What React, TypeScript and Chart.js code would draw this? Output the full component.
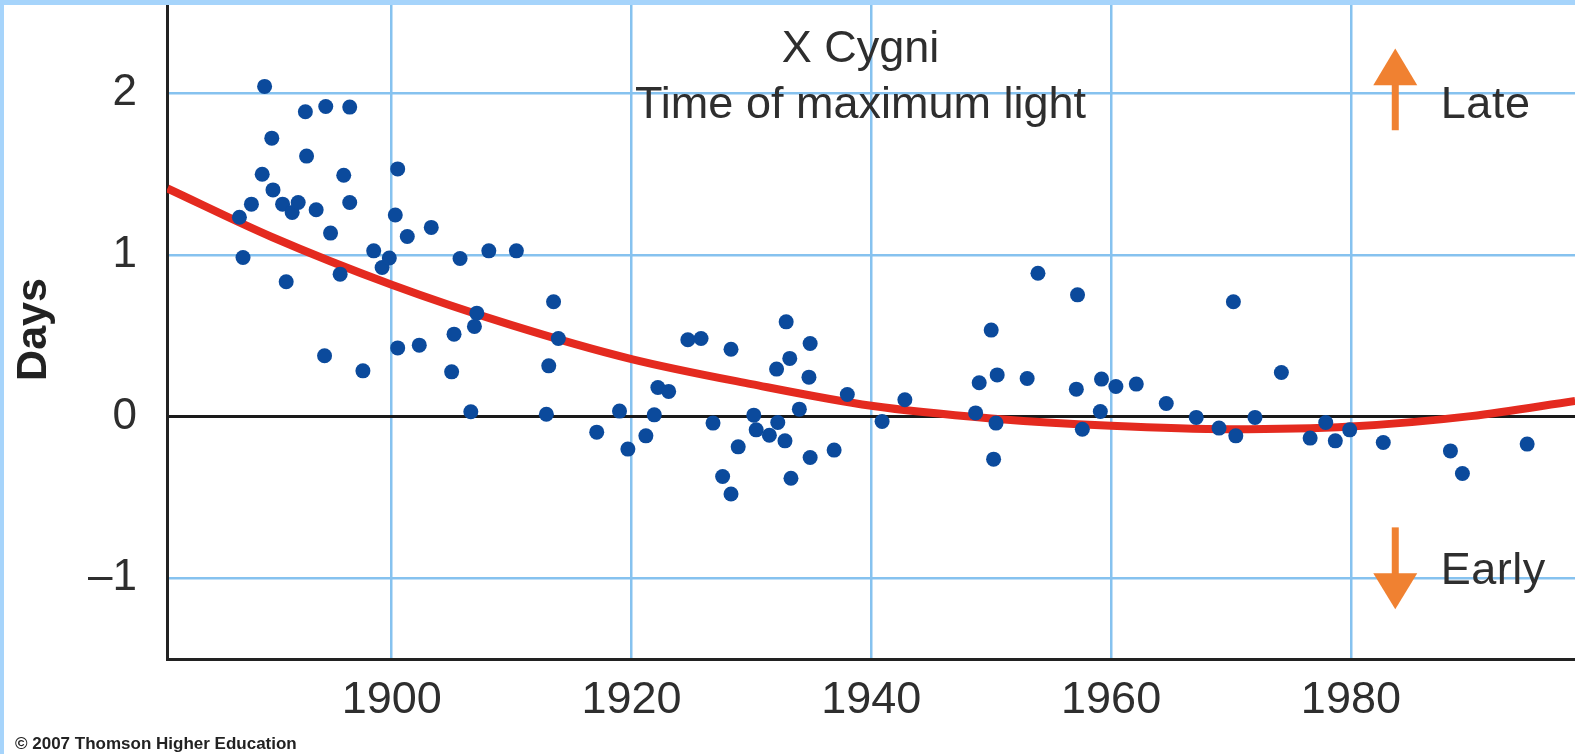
import React, { useEffect, useRef } from "react";
import { Chart, registerables } from "chart.js";

Chart.register(...registerables);

// ---- Data ----
const obsYears = [
  1887.3, 1887.6, 1888.3, 1889.2, 1889.4, 1890.0, 1890.1, 1890.9, 1891.2, 1891.7,
  1892.2, 1892.8, 1892.9, 1893.7, 1894.4, 1894.5, 1894.9, 1895.7, 1896.0, 1896.5,
  1896.5, 1897.6, 1898.5, 1899.2, 1899.8, 1900.3, 1900.5, 1900.5, 1901.3, 1902.3,
  1903.3, 1905.0, 1905.2, 1905.7, 1906.6, 1906.9, 1907.1, 1908.1, 1910.4, 1912.9,
  1913.1, 1913.5, 1913.9, 1917.1, 1919.0, 1919.7, 1921.2, 1921.9, 1922.2, 1923.1,
  1924.7, 1925.8, 1926.8, 1927.6, 1928.3, 1928.3, 1928.9, 1930.2, 1930.4, 1931.5,
  1932.1, 1932.2, 1932.8, 1932.9, 1933.2, 1933.3, 1934.0, 1934.8, 1934.9, 1934.9,
  1936.9, 1938.0, 1940.9, 1942.8, 1948.7, 1949.0, 1950.0, 1950.2, 1950.4, 1950.5,
  1953.0, 1953.9, 1957.1, 1957.2, 1957.6, 1959.1, 1959.2, 1960.4, 1962.1, 1964.6,
  1967.1, 1969.0, 1970.2, 1970.4, 1972.0, 1974.2, 1976.6, 1977.9, 1978.7, 1979.9,
  1982.7, 1988.3, 1989.3, 1994.7,
];
const obsDays = [
  1.232, 0.983, 1.313, 1.498, 2.041, 1.721, 1.401, 1.313, 0.833, 1.262,
  1.323, 1.884, 1.61, 1.278, 0.375, 1.917, 1.134, 0.88, 1.492, 1.913,
  1.323, 0.282, 1.024, 0.921, 0.98, 1.246, 1.531, 0.424, 1.113, 0.441,
  1.169, 0.276, 0.509, 0.977, 0.029, 0.557, 0.639, 1.024, 1.024, 0.014,
  0.313, 0.709, 0.482, -0.097, 0.033, -0.202, -0.12, 0.01, 0.179, 0.155,
  0.474, 0.482, -0.041, -0.371, -0.48, 0.416, -0.188, 0.008, -0.083, -0.116,
  0.293, -0.037, -0.151, 0.585, 0.359, -0.382, 0.045, 0.243, 0.451, -0.254,
  -0.208, 0.136, -0.031, 0.103, 0.022, 0.208, 0.534, -0.264, -0.041, 0.257,
  0.235, 0.886, 0.169, 0.752, -0.079, 0.031, 0.231, 0.185, 0.2, 0.08,
  -0.006, -0.072, 0.709, -0.12, -0.006, 0.272, -0.134, -0.037, -0.151, -0.083,
  -0.161, -0.213, -0.353, -0.171,
];

// Trend curve
const fitYears = [1881.3, 1890, 1900, 1910, 1920, 1930, 1940, 1950, 1960, 1970, 1980, 1990, 1998.7];
const fitDays = [1.41, 1.11, 0.815, 0.565, 0.355, 0.2, 0.066, -0.012, -0.058, -0.079, -0.062, 0.002, 0.096];

const xTickValues = [1900, 1920, 1940, 1960, 1980];
const xTickLabels = ["1900", "1920", "1940", "1960", "1980"];
const yTickValues = [-1, 0, 1, 2];
const yTickLabels = ["\u20131", "0", "1", "2"];

const titleLines = ["X Cygni", "Time of maximum light"];
const yAxisTitle = "Days";
const lateLabel = "Late";
const earlyLabel = "Early";
const creditText = "\u00A9 2007 Thomson Higher Education";

// ---- Styling ----
const FONT = "'Liberation Sans', Arial, Helvetica, sans-serif";
const GRID_BLUE = "#86c2ef";
const FRAME_BLUE = "#a6d4fb";
const DOT_BLUE = "#0b4a9c";
const RED = "#e42a1f";
const ORANGE = "#f08131";
const TEXT = "#2e2e2e";

const W = 1575;
const H = 754;

const annotationPlugin = {
  id: "annotations",
  afterDraw(chart: any) {
    const ctx = chart.ctx;
    const xs = chart.scales.x;
    const ys = chart.scales.y;
    const px = (v: number) => xs.getPixelForValue(v);
    const py = (v: number) => ys.getPixelForValue(v);
    ctx.save();

    // title
    ctx.fillStyle = TEXT;
    ctx.font = `45px ${FONT}`;
    ctx.textAlign = "center";
    ctx.textBaseline = "alphabetic";
    ctx.fillText(titleLines[0], px(1939.1), py(2.193));
    ctx.fillText(titleLines[1], px(1939.1), py(1.845));

    // arrows
    const ax = px(1983.7);
    ctx.fillStyle = ORANGE;
    // up arrow
    ctx.fillRect(ax - 3.5, py(2.06), 7, py(1.77) - py(2.06));
    ctx.beginPath();
    ctx.moveTo(ax, py(2.276));
    ctx.lineTo(ax + 22, py(2.049));
    ctx.lineTo(ax - 22, py(2.049));
    ctx.closePath();
    ctx.fill();
    // down arrow
    ctx.fillRect(ax - 3.5, py(-0.686), 7, py(-0.98) - py(-0.686));
    ctx.beginPath();
    ctx.moveTo(ax - 22, py(-0.969));
    ctx.lineTo(ax + 22, py(-0.969));
    ctx.lineTo(ax, py(-1.192));
    ctx.closePath();
    ctx.fill();

    // Late / Early
    ctx.fillStyle = TEXT;
    ctx.font = `45px ${FONT}`;
    ctx.textAlign = "left";
    (ctx as any).letterSpacing = "0.5px";
    ctx.fillText(lateLabel, px(1987.5), py(1.845));
    ctx.fillText(earlyLabel, px(1987.5), py(-1.037));
    (ctx as any).letterSpacing = "0px";

    // frame
    ctx.fillStyle = FRAME_BLUE;
    ctx.fillRect(0, 0, W, 5);
    ctx.fillRect(0, 0, 4, H);

    // credit
    ctx.fillStyle = "#222";
    ctx.font = `bold 17px ${FONT}`;
    ctx.textAlign = "left";
    ctx.fillText(creditText, 15, 749);
    ctx.restore();
  },
};

export default function App() {
  const canvasRef = useRef<HTMLCanvasElement | null>(null);

  useEffect(() => {
    const canvas = canvasRef.current;
    if (!canvas) return;
    const points = obsYears.map((x, i) => ({ x, y: obsDays[i] }));
    const curve = fitYears.map((x, i) => ({ x, y: fitDays[i] }));

    const chart = new Chart(canvas, {
      type: "scatter",
      data: {
        datasets: [
          {
            label: "Observed",
            data: points,
            backgroundColor: DOT_BLUE,
            borderWidth: 0,
            pointRadius: 7.5,
            pointHoverRadius: 7.5,
            order: 0,
          },
          {
            label: "Fit",
            data: curve,
            showLine: true,
            borderColor: RED,
            borderWidth: 8,
            pointRadius: 0,
            cubicInterpolationMode: "monotone",
            fill: false,
            order: 1,
          } as any,
        ],
      },
      options: {
        responsive: false,
        animation: false,
        devicePixelRatio: 1,
        layout: { padding: 0, autoPadding: false },
        plugins: {
          legend: { display: false },
          tooltip: { enabled: false },
          title: { display: false },
        },
        scales: {
          x: {
            type: "linear",
            position: "bottom",
            min: 1881.26,
            max: 1998.69,
            afterBuildTicks: (scale: any) => {
              scale.ticks = xTickValues.map((value) => ({ value }));
            },
            afterFit: (scale: any) => {
              scale.height = 95;
              scale.paddingLeft = 0;
              scale.paddingRight = 0;
            },
            ticks: {
              autoSkip: false,
              maxRotation: 0,
              padding: 15,
              color: TEXT,
              font: { family: FONT, size: 45 },
              callback: (_v: any, i: number) => xTickLabels[i],
            },
            grid: { color: GRID_BLUE, lineWidth: 2.5, drawTicks: false },
            border: { display: true, color: "#222", width: 3 },
          },
          y: {
            type: "linear",
            position: "left",
            min: -1.5,
            max: 2.5755,
            afterBuildTicks: (scale: any) => {
              scale.ticks = yTickValues.map((value) => ({ value }));
            },
            afterFit: (scale: any) => {
              scale.width = 167;
              scale.paddingTop = 0;
              scale.paddingBottom = 0;
            },
            ticks: {
              padding: 30,
              color: TEXT,
              font: { family: FONT, size: 44 },
              callback: (_v: any, i: number) => yTickLabels[i],
            },
            grid: {
              color: (c: any) => (c.tick && c.tick.value === 0 ? "#1a1a1a" : GRID_BLUE),
              lineWidth: (c: any) => (c.tick && c.tick.value === 0 ? 3 : 2.5),
              drawTicks: false,
            },
            border: { display: true, color: "#222", width: 3 },
            title: {
              display: true,
              text: yAxisTitle,
              color: "#222",
              font: { family: FONT, size: 43, weight: "bold" },
              padding: { top: 8, bottom: 0 },
            },
          },
        },
      },
      plugins: [annotationPlugin],
    } as any);

    return () => chart.destroy();
  }, []);

  return (
    <div style={{ position: "absolute", left: 0, top: 0, width: W, height: H, background: "#fff" }}>
      <canvas ref={canvasRef} width={W} height={H} style={{ display: "block" }} />
    </div>
  );
}
